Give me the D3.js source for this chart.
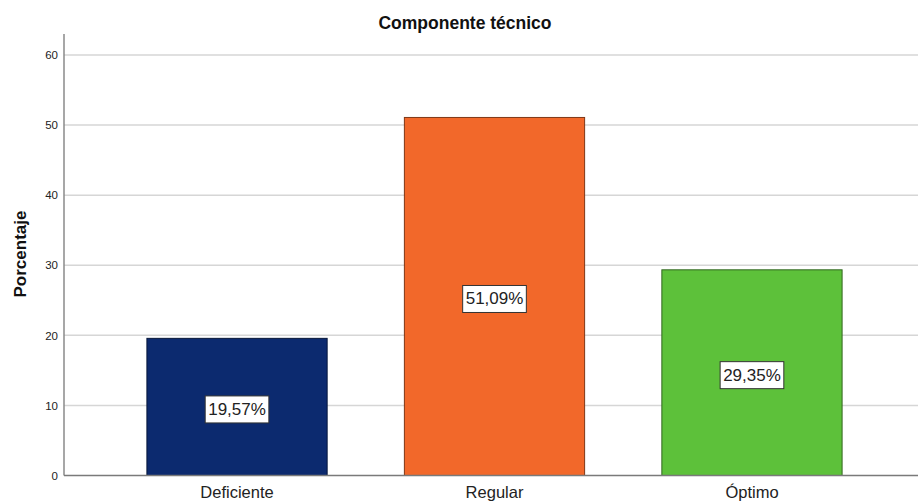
<!DOCTYPE html>
<html>
<head>
<meta charset="utf-8">
<script src="https://cdn.jsdelivr.net/npm/d3@7"></script>
<style>
  html, body { margin: 0; padding: 0; background: #fff; }
  svg { display: block; font-family: "Liberation Sans", Arial, sans-serif; }
</style>
</head>
<body>
<svg id="chart" width="918" height="504"></svg>
<script>
const title = "Componente técnico";
const yTitle = "Porcentaje";
const categories = ["Deficiente", "Regular", "Óptimo"];
const values = [19.57, 51.09, 29.35];
const valueLabels = ["19,57%", "51,09%", "29,35%"];
const colors = ["#0c2a6f", "#f2682a", "#5dc13a"];
const yTicks = [0, 10, 20, 30, 40, 50, 60];

const svg = d3.select("#chart");
const plotLeft = 64, plotRight = 925, plotTop = 34, plotBottom = 475.5;

const x = d3.scaleBand().domain(categories).range([plotLeft, plotRight])
  .paddingInner(0.3).paddingOuter(0.322);
const y = d3.scaleLinear().domain([0, 63]).range([plotBottom, plotTop]);

// gridlines
svg.append("g").selectAll("line").data(yTicks.filter(d => d > 0)).join("line")
  .attr("x1", plotLeft).attr("x2", 918)
  .attr("y1", d => y(d)).attr("y2", d => y(d))
  .attr("stroke", "#d6d6d6").attr("stroke-width", 1.5);

// y axis
const yAxis = svg.append("g").attr("transform", `translate(${plotLeft},0)`)
  .call(d3.axisLeft(y).tickValues(yTicks).tickSize(0).tickPadding(6));
yAxis.select(".domain").remove();
yAxis.selectAll("text").attr("font-size", 11.5).attr("fill", "#222")
  .style("font-family", "'Liberation Sans', Arial, sans-serif");
svg.append("line").attr("x1", plotLeft).attr("x2", plotLeft).attr("y1", plotTop).attr("y2", plotBottom)
  .attr("stroke", "#8a8a8a").attr("stroke-width", 1.5);

// bars
svg.append("g").selectAll("rect").data(values).join("rect")
  .attr("x", (d, i) => x(categories[i]))
  .attr("width", x.bandwidth())
  .attr("y", d => y(d))
  .attr("height", d => y(0) - y(d))
  .attr("fill", (d, i) => colors[i])
  .attr("stroke", (d, i) => d3.color(colors[i]).darker(1.8))
  .attr("stroke-width", 1);

// x axis
const xAxis = svg.append("g").attr("transform", `translate(0,${plotBottom})`)
  .call(d3.axisBottom(x).tickSize(0).tickPadding(11));
xAxis.select(".domain").remove();
xAxis.selectAll("text").attr("font-size", 16.5).attr("fill", "#222")
  .style("font-family", "'Liberation Sans', Arial, sans-serif");
svg.append("line").attr("x1", plotLeft).attr("x2", 918).attr("y1", plotBottom).attr("y2", plotBottom)
  .attr("stroke", "#7a7a7a").attr("stroke-width", 1.5);

// value labels
const lbl = svg.append("g").selectAll("g").data(values).join("g")
  .attr("transform", (d, i) => `translate(${x(categories[i]) + x.bandwidth() / 2},${(y(d) + y(0)) / 2 + 2.5})`);
lbl.append("text")
  .attr("text-anchor", "middle").attr("dominant-baseline", "central")
  .attr("font-size", 17).attr("fill", "#222")
  .text((d, i) => valueLabels[i]);
lbl.each(function() {
  const g = d3.select(this);
  const bb = g.select("text").node().getBBox();
  g.insert("rect", "text")
    .attr("x", bb.x - 3).attr("y", -13.5)
    .attr("width", bb.width + 6).attr("height", 27)
    .attr("fill", "#fff").attr("stroke", "#333").attr("stroke-width", 1);
});

// title
svg.append("text").attr("x", 465).attr("y", 29)
  .attr("text-anchor", "middle").attr("font-size", 17.5).attr("font-weight", "bold")
  .attr("fill", "#111").text(title);

// y title
svg.append("text").attr("transform", `translate(26,254) rotate(-90)`)
  .attr("text-anchor", "middle").attr("font-size", 17).attr("font-weight", "bold")
  .attr("fill", "#111").text(yTitle);
</script>
</body>
</html>
